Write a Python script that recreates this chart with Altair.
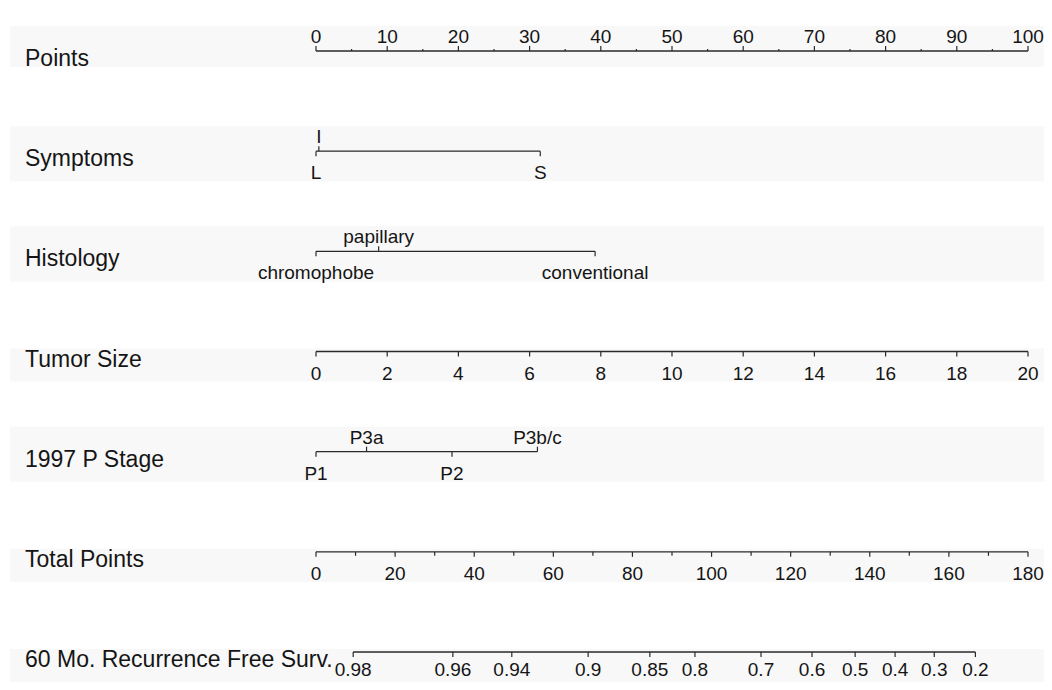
import altair as alt
import pandas as pd

# ---------------- data ----------------
row_names = ["Points", "Symptoms", "Histology", "Tumor Size",
             "1997 P Stage", "Total Points", "60 Mo. Recurrence Free Surv."]

points_major = [0, 10, 20, 30, 40, 50, 60, 70, 80, 90, 100]
points_minor = [5, 15, 25, 35, 45, 55, 65, 75, 85, 95]

symptom_levels = ["L", "I", "S"]
symptom_points = [0.0, 0.4, 31.5]
symptom_side = ["below", "above", "below"]

histology_levels = ["chromophobe", "papillary", "conventional"]
histology_points = [0.0, 8.8, 39.2]
histology_side = ["below", "above", "below"]

tumor_size_ticks = [0, 2, 4, 6, 8, 10, 12, 14, 16, 18, 20]
tumor_size_points_per_unit = 5.0  # size 20 -> 100 points

stage_levels = ["P1", "P3a", "P2", "P3b/c"]
stage_points = [0.0, 7.1, 19.1, 31.1]
stage_side = ["below", "above", "below", "above"]

total_major = [0, 20, 40, 60, 80, 100, 120, 140, 160, 180]
total_minor = [10, 30, 50, 70, 90, 110, 130, 150, 170]
total_points_max = 180.0  # total 180 <-> 100 points

rfs_labels = ["0.98", "0.96", "0.94", "0.9", "0.85", "0.8",
              "0.7", "0.6", "0.5", "0.4", "0.3", "0.2"]
rfs_total_points = [9.4, 34.6, 49.5, 68.8, 84.4, 95.8,
                    112.5, 125.4, 136.3, 146.4, 156.3, 166.7]

# ---------------- build tables ----------------
def tp(t):
    return t * 100.0 / total_points_max

lines, ticks, labels = [], [], []

def add_row(r, xs, texts, sides, tick_len=5):
    lines.append({"y": r, "x": min(xs), "x2": max(xs)})
    for xv, tx, sd in zip(xs, texts, sides):
        d = -1 if sd == "above" else 1
        ticks.append({"x": xv, "y": r, "y2": r + d * tick_len / 100.0})
        labels.append({"x": xv, "y": r, "text": tx, "side": sd})

# Points
add_row(0, points_major, [str(v) for v in points_major], ["above"] * len(points_major))
for v in points_minor:
    ticks.append({"x": v, "y": 0, "y2": 0 - 0.02})
# Symptoms
add_row(1, symptom_points, symptom_levels, symptom_side)
# Histology
add_row(2, histology_points, histology_levels, histology_side)
# Tumor size
add_row(3, [v * tumor_size_points_per_unit for v in tumor_size_ticks],
        [str(v) for v in tumor_size_ticks], ["below"] * len(tumor_size_ticks))
# P stage
add_row(4, stage_points, stage_levels, stage_side)
# Total points
add_row(5, [tp(v) for v in total_major], [str(v) for v in total_major],
        ["below"] * len(total_major))
for v in total_minor:
    ticks.append({"x": tp(v), "y": 5, "y2": 5 + 0.04})
# Recurrence free survival
add_row(6, [tp(v) for v in rfs_total_points], rfs_labels, ["bottom"] * len(rfs_labels))

lines_df = pd.DataFrame(lines)
ticks_df = pd.DataFrame(ticks)
labels_df = pd.DataFrame(labels)
names_df = pd.DataFrame({"y": list(range(len(row_names))), "text": row_names})

band_has_above = [True, True, True, False, True, False, False]
band_has_below = [False, True, True, True, True, True, True]
bands_df = pd.DataFrame({
    "y": [r - (0.25 if a else 0.03) for r, a in enumerate(band_has_above)],
    "y2": [r + (0.30 if b else 0.16) for r, b in enumerate(band_has_below)],
})

# ---------------- chart ----------------
xs = alt.Scale(domain=[0, 100], range=[308, 1020])
ys = alt.Scale(domain=[0, 6], range=[43, 644])
X = alt.X("x:Q", scale=xs, axis=None)
Y = alt.Y("y:Q", scale=ys, axis=None)
INK = "#151515"
FONT = "Liberation Sans"

bands = alt.Chart(bands_df).mark_rect(color="#f8f8f8").encode(
    x=alt.value(2), x2=alt.value(1036), y=Y, y2="y2:Q")

axis_lines = alt.Chart(lines_df).mark_rule(color="#2a2a2a", strokeWidth=1.4).encode(
    x=X, x2="x2:Q", y=Y)

tick_marks = alt.Chart(ticks_df).mark_rule(color="#2a2a2a", strokeWidth=1.2).encode(
    x=X, y=Y, y2="y2:Q")

def text_layer(side, dy):
    return alt.Chart(labels_df).transform_filter(alt.datum.side == side).mark_text(
        font=FONT, fontSize=19, color=INK, align="center", baseline="alphabetic", dy=dy
    ).encode(x=X, y=Y, text="text:N")

above = text_layer("above", -8)
below = text_layer("below", 28)
bottom = text_layer("bottom", 24)

names = alt.Chart(names_df).mark_text(
    font=FONT, fontSize=23, color=INK, align="left", baseline="alphabetic", dy=15
).encode(x=alt.value(17), y=Y, text="text:N")

chart = alt.layer(bands, axis_lines, tick_marks, above, below, bottom, names).properties(
    width=1036, height=674,
    autosize=alt.AutoSizeParams(type="none"),
    padding=0,
    background="white",
).configure_view(stroke=None)

chart.save("out.html", embed_options={"renderer": "svg", "actions": False})
